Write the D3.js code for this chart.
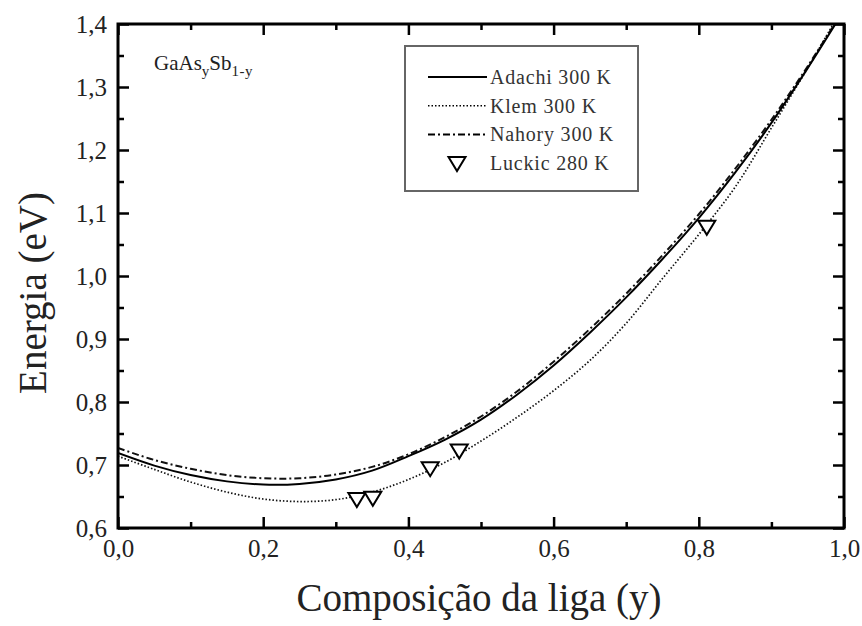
<!DOCTYPE html>
<html>
<head>
<meta charset="utf-8">
<script src="https://cdn.jsdelivr.net/npm/d3@7"></script>
<style>
  body { margin: 0; background: #fff; }
  svg { display: block; font-family: "Liberation Serif", "Times New Roman", serif; }
</style>
</head>
<body>
<svg id="chart" width="862" height="626"></svg>
<script>
// composition y (GaAs fraction) and gap energies
const comp = [0, 0.05, 0.1, 0.15, 0.2, 0.25, 0.3, 0.35, 0.4, 0.45, 0.5,
  0.55, 0.6, 0.65, 0.7, 0.75, 0.8, 0.85, 0.9, 0.95, 1.0];
const adachi = [0.719, 0.699, 0.684, 0.674, 0.669, 0.670, 0.677, 0.691, 0.714, 0.740, 0.772,
  0.812, 0.858, 0.910, 0.966, 1.027, 1.092, 1.164, 1.243, 1.330, 1.422];
const klem = [0.714, 0.693, 0.673, 0.657, 0.646, 0.642, 0.645, 0.657, 0.677, 0.704, 0.738,
  0.776, 0.818, 0.866, 0.925, 0.996, 1.066, 1.141, 1.235, 1.330, 1.430];
const nahory = [0.727, 0.708, 0.694, 0.684, 0.679, 0.679, 0.685, 0.697, 0.717, 0.744, 0.777,
  0.817, 0.864, 0.916, 0.972, 1.033, 1.098, 1.170, 1.248, 1.333, 1.424];
// Luckic 280 K measurements
const luckicY = [0.329, 0.351, 0.430, 0.470, 0.811];
const luckicE = [0.646, 0.648, 0.695, 0.723, 1.078];

const xTicks = [0, 0.2, 0.4, 0.6, 0.8, 1.0];
const xMinor = [0.1, 0.3, 0.5, 0.7, 0.9];
const yTicks = [0.6, 0.7, 0.8, 0.9, 1.0, 1.1, 1.2, 1.3, 1.4];
const yMinor = [0.65, 0.75, 0.85, 0.95, 1.05, 1.15, 1.25, 1.35];

const legendItems = [
  { label: "Adachi 300 K", type: "line", dash: null, width: 2 },
  { label: "Klem 300 K", type: "line", dash: "1.5,2", width: 1.6 },
  { label: "Nahory 300 K", type: "line", dash: "7,3,2,3", width: 2 },
  { label: "Luckic 280 K", type: "marker" }
];

const svg = d3.select("#chart");
const margin = { top: 24, right: 18, bottom: 98, left: 118 };
const W = 862, H = 626;
const x = d3.scaleLinear().domain([0, 1]).range([margin.left, W - margin.right]);
const y = d3.scaleLinear().domain([0.6, 1.4]).range([H - margin.bottom, margin.top]);
const fmt = d => d3.format(".1f")(d).replace(".", ",");

svg.append("defs").append("clipPath").attr("id", "plot-clip")
  .append("rect")
  .attr("x", x(0)).attr("y", y(1.4))
  .attr("width", x(1) - x(0)).attr("height", y(0.6) - y(1.4));

// curves
const line = d3.line().x(d => x(d[0])).y(d => y(d[1])).curve(d3.curveCatmullRom);
const series = [
  { vals: klem, dash: "1.5,2", width: 1.7, color: "#111" },
  { vals: nahory, dash: "7,3,2,3", width: 2, color: "#111" },
  { vals: adachi, dash: null, width: 2, color: "#000" }
];
const g = svg.append("g").attr("clip-path", "url(#plot-clip)");
series.forEach(s => {
  g.append("path")
    .datum(comp.map((c, i) => [c, s.vals[i]]))
    .attr("d", line)
    .attr("fill", "none")
    .attr("stroke", s.color)
    .attr("stroke-width", s.width)
    .attr("stroke-dasharray", s.dash);
});

// triangle markers (pointing down)
const tri = (cx, cy) => `M${cx - 8.5},${cy - 6} L${cx + 8.5},${cy - 6} L${cx},${cy + 8} Z`;
svg.append("g").selectAll("path")
  .data(luckicY.map((v, i) => [v, luckicE[i]]))
  .join("path")
  .attr("d", d => tri(x(d[0]), y(d[1])))
  .attr("fill", "#fff")
  .attr("stroke", "#000")
  .attr("stroke-width", 2);

// axes, ticks pointing inward on all four sides
function styleAxis(sel) {
  sel.select(".domain").remove();
  sel.selectAll(".tick line").attr("stroke", "#000").attr("stroke-width", 2.5);
  sel.selectAll(".tick text").attr("fill", "#222").attr("font-size", 25)
    .attr("font-family", "Liberation Serif, serif");
}
function addAxis(axis, tx, ty) {
  const a = svg.append("g").attr("transform", `translate(${tx},${ty})`).call(axis);
  styleAxis(a);
}
addAxis(d3.axisBottom(x).tickValues(xTicks).tickFormat(fmt).tickSize(-11).tickPadding(11), 0, y(0.6));
addAxis(d3.axisBottom(x).tickValues(xMinor).tickFormat("").tickSize(-6), 0, y(0.6));
addAxis(d3.axisTop(x).tickValues(xTicks).tickFormat("").tickSize(-11), 0, y(1.4));
addAxis(d3.axisTop(x).tickValues(xMinor).tickFormat("").tickSize(-6), 0, y(1.4));
addAxis(d3.axisLeft(y).tickValues(yTicks).tickFormat(fmt).tickSize(-11).tickPadding(11), x(0), 0);
addAxis(d3.axisLeft(y).tickValues(yMinor).tickFormat("").tickSize(-6), x(0), 0);
addAxis(d3.axisRight(y).tickValues(yTicks).tickFormat("").tickSize(-11), x(1), 0);
addAxis(d3.axisRight(y).tickValues(yMinor).tickFormat("").tickSize(-6), x(1), 0);

// frame
svg.append("rect")
  .attr("x", x(0)).attr("y", y(1.4))
  .attr("width", x(1) - x(0)).attr("height", y(0.6) - y(1.4))
  .attr("fill", "none").attr("stroke", "#000").attr("stroke-width", 3);

// axis titles
svg.append("text")
  .attr("x", (x(0) + x(1)) / 2 - 2).attr("y", 611)
  .attr("text-anchor", "middle").attr("font-size", 39).attr("fill", "#222")
  .text("Composição da liga (y)");
svg.append("text")
  .attr("transform", `translate(46,${(y(0.6) + y(1.4)) / 2 + 17}) rotate(-90)`)
  .attr("text-anchor", "middle").attr("font-size", 39).attr("fill", "#222")
  .text("Energia (eV)");

// compound label
const lab = svg.append("text").attr("x", 154).attr("y", 70)
  .attr("font-size", 21).attr("fill", "#222");
lab.append("tspan").text("GaAs");
lab.append("tspan").attr("font-size", 15).attr("dy", 6).text("y");
lab.append("tspan").attr("dy", -6).text("Sb");
lab.append("tspan").attr("font-size", 15).attr("dy", 6).attr("letter-spacing", 0.5).text("1-y");

// legend
const lg = svg.append("g");
lg.append("rect")
  .attr("x", 405).attr("y", 46).attr("width", 233).attr("height", 145)
  .attr("fill", "#fff").attr("stroke", "#666").attr("stroke-width", 2);
legendItems.forEach((it, i) => {
  const ry = 77 + i * 28.7;
  if (it.type === "line") {
    lg.append("line")
      .attr("x1", 428).attr("x2", 487).attr("y1", ry).attr("y2", ry)
      .attr("stroke", "#000").attr("stroke-width", it.width)
      .attr("stroke-dasharray", it.dash);
  } else {
    lg.append("path").attr("d", tri(457, ry)).attr("fill", "#fff")
      .attr("stroke", "#000").attr("stroke-width", 2);
  }
  lg.append("text")
    .attr("x", 490).attr("y", ry + 7)
    .attr("font-size", 20).attr("letter-spacing", 0.8).attr("fill", "#333")
    .text(it.label);
});
</script>
</body>
</html>
